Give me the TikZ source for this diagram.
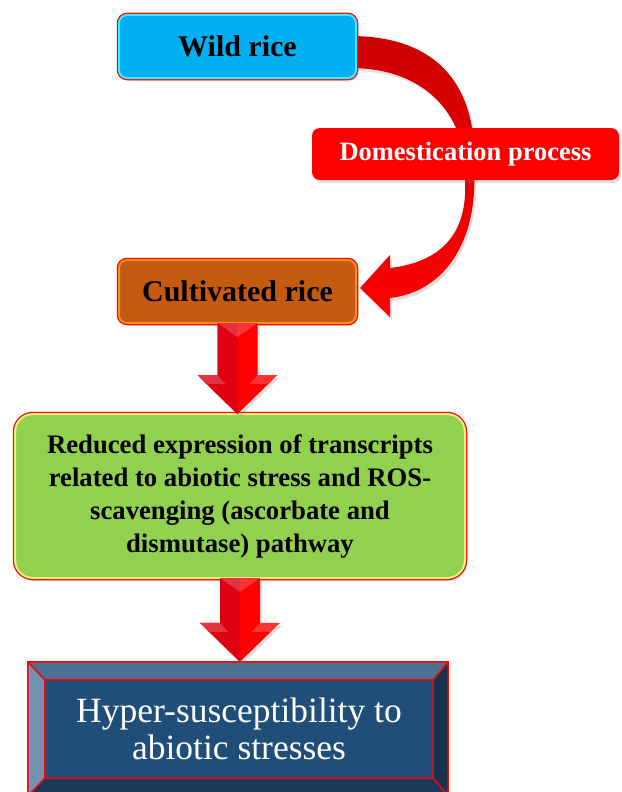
\documentclass[tikz,border=0pt]{standalone}
\usepackage{fontspec}
\setmainfont{Liberation Serif}
\usetikzlibrary{calc,shadows,backgrounds}
\definecolor{WildCyan}{RGB}{0,176,240}
\definecolor{WildRim}{RGB}{60,235,255}
\definecolor{RiceBrown}{RGB}{197,90,17}
\definecolor{RiceRim}{RGB}{255,140,30}
\definecolor{LeafGreen}{RGB}{146,208,80}
\definecolor{LeafRim}{RGB}{235,240,120}
\definecolor{DeepRed}{RGB}{204,0,0}
\definecolor{ArrowShade}{RGB}{222,0,16}
\definecolor{NavyMid}{RGB}{31,78,121}
\definecolor{NavyTop}{RGB}{74,112,148}
\definecolor{NavyLeft}{RGB}{115,145,176}
\definecolor{NavyRight}{RGB}{23,50,79}
\definecolor{NavyBot}{RGB}{26,58,92}
\newcommand{\blockdown}[2]{%
\path let \p1=(#1.south),\p2=(#2.north) in coordinate (ts) at (\p1) coordinate (tt) at (\x1,\y2);
\fill[red,softshadow] ($(ts)+(-20,0)$) -- ($(ts)+(20,0)$) -- ($(tt)+(20,-39)$) -- ($(tt)+(40,-39)$) -- (tt) -- ($(tt)+(-40,-39)$) -- ($(tt)+(-20,-39)$) -- cycle;
\fill[ArrowShade] ($(ts)+(-20,0)$) -- (ts) -- (tt) -- ($(tt)+(-40,-39)$) -- ($(tt)+(-20,-39)$) -- cycle;
\fill[white,opacity=.2] ($(ts)+(-20,0)$) -- ($(ts)+(20,0)$) -- ($(ts)+(0,14)$) -- cycle;
\fill[white,opacity=.2] ($(tt)+(-40,-39)$) -- ($(tt)+(-20,-39)$) -- ($(tt)+(-12,-30)$) -- ($(tt)+(-30,-30)$) -- cycle;
\fill[white,opacity=.2] ($(tt)+(40,-39)$) -- ($(tt)+(20,-39)$) -- ($(tt)+(12,-30)$) -- ($(tt)+(30,-30)$) -- cycle;}

\begin{document}
\begin{tikzpicture}[x=1pt,y=-1pt,
  softshadow/.style={drop shadow={opacity=.25,shadow xshift=2pt,shadow yshift=-3pt}},
  ricebox/.style={rectangle,rounded corners=8pt,minimum width=237pt,minimum height=63pt,inner sep=0pt,outer sep=0pt,line width=2pt,softshadow,preaction={draw=red,line width=4.5pt},font=\fontsize{30}{36}\selectfont\bfseries}]
\clip (0,0) rectangle (621,792);
% boxes
\node[ricebox,fill=WildCyan,draw=WildRim] (wild) at (237.5,46.5) {Wild rice};
\node[rectangle,rounded corners=8pt,fill=red,text=white,minimum width=307pt,minimum height=52pt,inner sep=0pt,softshadow,font=\fontsize{26.5}{32}\selectfont\bfseries] (domest) at (465.5,154) {Domestication process};
\node[ricebox,fill=RiceBrown,draw=RiceRim] (cultivated) at (237.5,291.5) {Cultivated rice};
\node[ricebox,rounded corners=18pt,fill=LeafGreen,draw=LeafRim,minimum width=450pt,minimum height=164pt,align=center,font=\fontsize{26.7}{33}\selectfont\bfseries] (reduced) at (240,496) {Reduced expression of transcripts\\related to abiotic stress and ROS-\\scavenging (ascorbate and\\dismutase) pathway};
\node[rectangle,fill=NavyMid,minimum width=420pt,minimum height=134pt,inner sep=0pt] (hyper) at (238,729) {};
% bevel of the last box
\coordinate (nw) at ($(hyper.north west)+(17,18)$);
\coordinate (ne) at ($(hyper.north east)+(-15,18)$);
\coordinate (se) at ($(hyper.south east)+(-15,-18)$);
\coordinate (sw) at ($(hyper.south west)+(17,-18)$);
\fill[NavyTop] (hyper.north west) -- (hyper.north east) -- (ne) -- (nw) -- cycle;
\fill[NavyLeft] (hyper.north west) -- (nw) -- (sw) -- (hyper.south west) -- cycle;
\fill[NavyRight] (hyper.north east) -- (hyper.south east) -- (se) -- (ne) -- cycle;
\fill[NavyBot] (hyper.south west) -- (sw) -- (se) -- (hyper.south east) -- cycle;
\draw[red,line width=1.5pt] (hyper.north west) rectangle (hyper.south east) (nw) rectangle (se) (hyper.north west) -- (nw) (hyper.north east) -- (ne) (hyper.south east) -- (se) (hyper.south west) -- (sw);
\node[text=white,align=center,font=\fontsize{35.5}{37}\selectfont] (hypertext) at ($(nw)!.5!(se)$) {Hyper-susceptibility to\\abiotic stresses};
% curved arrow wild -> cultivated
\coordinate (o1) at ($(wild.east)+(-6,-10.5)$);
\coordinate (i1) at ($(wild.east)+(-6,21.5)$);
\coordinate (om) at ($(domest.center)+(8.5,16)$);
\coordinate (im) at ($(domest.center)+(-0.5,26)$);
\coordinate (o2) at ($(cultivated.east)+(34,6.5)$);
\coordinate (i2) at ($(cultivated.east)+(34,-23.5)$);
\coordinate (hb) at ($(cultivated.east)+(34,25.5)$);
\coordinate (ht) at ($(cultivated.east)+(34,-36.5)$);
\coordinate (tip) at ($(cultivated.east)+(4,-3.5)$);
\begin{scope}[on background layer]
\path[top color=DeepRed,bottom color=red,softshadow] (o1) .. controls +(100,0) and +(4,-70) .. (om) .. controls +(4,70) and +(55,-6) .. (o2) -- (hb) -- (tip) -- (ht) -- (i2) .. controls +(50,-6) and +(3,55) .. (im) .. controls +(3,-60) and +(80,0) .. (i1) -- cycle;
\end{scope}
% block arrows
\blockdown{cultivated}{reduced}
\blockdown{reduced}{hyper}
\end{tikzpicture}
\end{document}
